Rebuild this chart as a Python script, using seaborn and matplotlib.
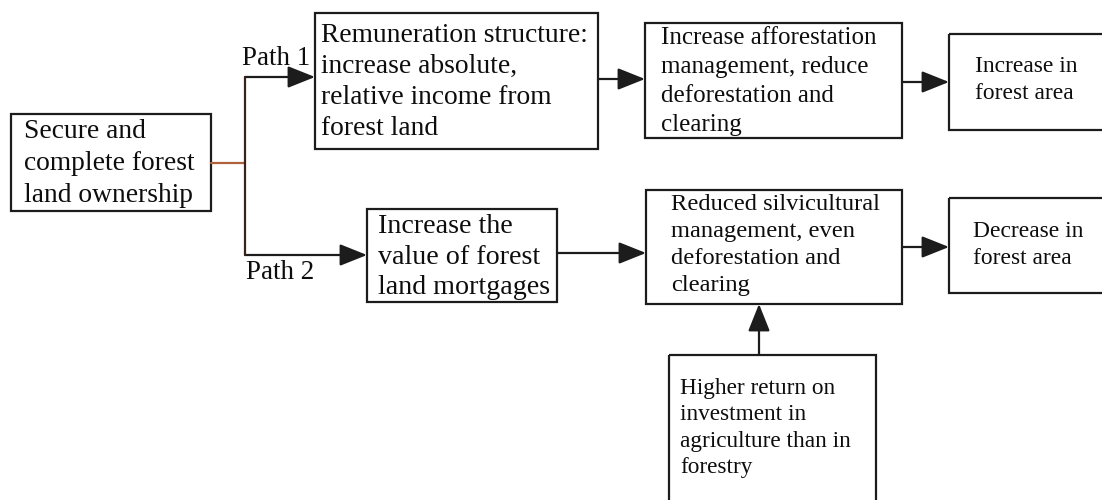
import matplotlib
matplotlib.use("Agg")
import matplotlib.pyplot as plt
import seaborn as sns
from matplotlib.patches import Rectangle, FancyArrowPatch

# box texts, one list of lines per box
box_ids = ["own", "pay", "affor", "inc", "mort", "silv", "dec", "agri"]
box_lines = [
    ["Secure and", "complete forest", "land ownership"],
    ["Remuneration structure:", "increase absolute,", "relative income from", "forest land"],
    ["Increase afforestation", "management, reduce", "deforestation and", "clearing"],
    ["Increase in", "forest area"],
    ["Increase the", "value of forest", "land mortgages"],
    ["Reduced silvicultural", "management, even", "deforestation and", "clearing"],
    ["Decrease in", "forest area"],
    ["Higher return on", "investment in", "agriculture than in", "forestry"],
]
path_labels = ["Path 1", "Path 2"]
path_targets = ["pay", "mort"]
edges = [("pay", "affor"), ("affor", "inc"), ("mort", "silv"), ("silv", "dec")]
up_edges = [("agri", "silv")]

# layout in pixels: rect (x0, y0, x1, y1), text x, first baseline, line gap, font px
layout = {
    "own":   dict(rect=(11, 114, 211, 211), tx=24, ty=138, gap=32, px=27.5),
    "pay":   dict(rect=(315, 13, 598, 149), tx=321, ty=42, gap=31, px=27.5),
    "affor": dict(rect=(645, 23, 902, 138), tx=661, ty=44, gap=29, px=25),
    "inc":   dict(rect=(949, 34, 1110, 130), tx=975, ty=72, gap=27, px=23.5),
    "mort":  dict(rect=(367, 209, 557, 302), tx=378, ty=233, gap=30.5, px=28),
    "silv":  dict(rect=(646, 190, 902, 304), tx=671, ty=210, gap=27, px=24.5),
    "dec":   dict(rect=(949, 198, 1110, 293), tx=973, ty=237, gap=27, px=23.5),
    "agri":  dict(rect=(669, 355, 876, 510), tx=680, ty=394, gap=26.5, px=23.3),
}
edge_y = {("pay", "affor"): 79, ("affor", "inc"): 82, ("mort", "silv"): 253, ("silv", "dec"): 247}
branch_x = 245
path_y = [77, 255]
label_pos = [(242, 65), (246, 279)]
up_x = 759

sns.set_theme(style="white")
plt.rcParams["font.family"] = ["Liberation Serif", "DejaVu Serif"]

W, H, DPI = 1102, 500, 100
fig = plt.figure(figsize=(W / DPI, H / DPI), dpi=DPI)
ax = fig.add_axes([0, 0, 1, 1])
ax.set_xlim(0, W)
ax.set_ylim(H, 0)
ax.axis("off")

pt = 72 / DPI
line_col = "#1c1c1c"

for bid, lines in zip(box_ids, box_lines):
    lay = layout[bid]
    x0, y0, x1, y1 = lay["rect"]
    ax.add_patch(Rectangle((x0, y0), x1 - x0, y1 - y0, fill=False,
                           edgecolor=line_col, lw=1.6))
    for i, line in enumerate(lines):
        ax.text(lay["tx"], lay["ty"] + i * lay["gap"], line, fontsize=lay["px"] * pt,
                ha="left", va="baseline", color="#0d0d0d")


def arrow(p0, p1):
    ax.add_patch(FancyArrowPatch(p0, p1, arrowstyle="-|>,head_length=1.05,head_width=0.42",
                                 mutation_scale=16, lw=1.6, color=line_col,
                                 shrinkA=0, shrinkB=0))


# trunk from the ownership box to the branch
own = layout["own"]["rect"]
mid_y = (own[1] + own[3]) / 2
ax.plot([own[2], branch_x], [mid_y, mid_y], color="#b0603a", lw=1.6)
ax.plot([branch_x, branch_x], [path_y[0], path_y[1]], color="#3a2219", lw=1.6)

for label, target, y, (lx, ly) in zip(path_labels, path_targets, path_y, label_pos):
    arrow((branch_x, y), (layout[target]["rect"][0], y))
    ax.text(lx, ly, label, fontsize=27 * pt, ha="left", va="baseline", color="#0d0d0d")

for src, dst in edges:
    y = edge_y[(src, dst)]
    arrow((layout[src]["rect"][2], y), (layout[dst]["rect"][0], y))

for src, dst in up_edges:
    arrow((up_x, layout[src]["rect"][1]), (up_x, layout[dst]["rect"][3]))

fig.savefig("out.png", dpi=DPI, facecolor="white")
